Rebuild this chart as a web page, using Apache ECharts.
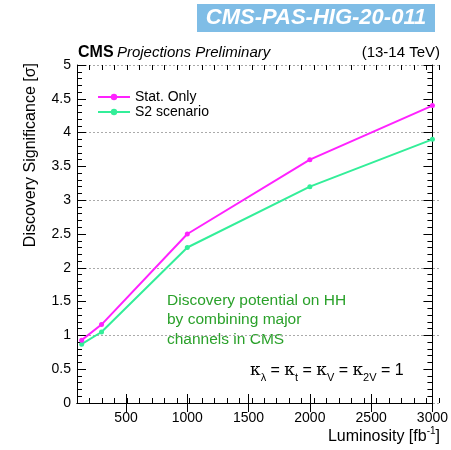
<!DOCTYPE html>
<html><head><meta charset="utf-8">
<script src="https://cdn.jsdelivr.net/npm/echarts@6/dist/echarts.min.js"></script>
<style>html,body{margin:0;padding:0;background:#fff}#c{width:451px;height:450px}</style>
</head><body><div id="c"></div>
<script>
const luminosity = [138, 300, 1000, 2000, 3000];
const statOnly = [0.93, 1.16, 2.5, 3.6, 4.4];
const s2Scenario = [0.87, 1.05, 2.3, 3.2, 3.9];
const xTickLabels = [500, 1000, 1500, 2000, 2500, 3000];
const seriesNames = ['Stat. Only', 'S2 scenario'];

const FONT = 'Liberation Sans, Arial, sans-serif';
const chart = echarts.init(document.getElementById('c'));
const gridRect = {left: 77, right: 12, top: 65, bottom: 47};
const pairs = a => luminosity.map((x, i) => [x, a[i]]);

const xMain = (pos) => ({
  type: 'value', gridIndex: 0, position: pos, min: 100, max: 3000,
  axisLine: {show: true, lineStyle: {color: '#000', width: 1}},
  axisTick: {show: true, inside: true, length: 9, customValues: xTickLabels, lineStyle: {color: '#000'}},
  axisLabel: pos === 'bottom' ? {show: true, customValues: xTickLabels, color: '#000', fontSize: 14, fontFamily: FONT, margin: 8, formatter: v => String(v)} : {show: false},
  splitLine: {show: false}
});
const xMinor = (pos) => ({
  type: 'value', gridIndex: 1, position: pos, min: 100, max: 3000, interval: 100,
  axisLine: {show: false}, axisLabel: {show: false}, splitLine: {show: false},
  axisTick: {show: true, inside: true, length: 5, lineStyle: {color: '#000'}}
});
const yMain = (pos) => ({
  type: 'value', gridIndex: 0, position: pos, min: 0, max: 5, interval: 0.5,
  axisLine: {show: true, lineStyle: {color: '#000', width: 1}},
  axisTick: {show: true, inside: true, length: 9, lineStyle: {color: '#000'}},
  minorTick: {show: true, splitNumber: 5, length: 5, lineStyle: {color: '#000'}},
  axisLabel: pos === 'left' ? {show: true, color: '#000', fontSize: 14, fontFamily: FONT, margin: 6, formatter: v => String(v)} : {show: false},
  splitLine: {show: false}
});

chart.setOption({
  animation: false,
  grid: [Object.assign({}, gridRect), Object.assign({}, gridRect)],
  xAxis: [xMain('bottom'), xMain('top'), xMinor('bottom'), xMinor('top')],
  yAxis: [yMain('left'), yMain('right'),
    {type: 'value', gridIndex: 1, min: 0, max: 5, interval: 1,
     axisLine: {show: false}, axisTick: {show: false}, axisLabel: {show: false},
     splitLine: {show: true, lineStyle: {color: '#aaaaaa', type: [2, 2], width: 1}}}],
  legend: {
    left: 92, top: 85, orient: 'vertical', itemGap: 1, itemWidth: 32, itemHeight: 8,
    textStyle: {fontSize: 14, fontFamily: FONT, color: '#000'},
    data: seriesNames
  },
  series: [
    {type: 'line', xAxisIndex: 2, yAxisIndex: 2, data: [], silent: true},
    {type: 'line', xAxisIndex: 3, yAxisIndex: 2, data: [], silent: true},
    {type: 'line', xAxisIndex: 1, yAxisIndex: 1, data: [], silent: true},
    {name: seriesNames[0], type: 'line', xAxisIndex: 0, yAxisIndex: 0, data: pairs(statOnly),
     symbol: 'circle', symbolSize: 5, color: '#ff22ff', lineStyle: {width: 2, color: '#ff22ff'}, z: 5},
    {name: seriesNames[1], type: 'line', xAxisIndex: 0, yAxisIndex: 0, data: pairs(s2Scenario),
     symbol: 'circle', symbolSize: 5, color: '#33ee99', lineStyle: {width: 2, color: '#33ee99'}, z: 4}
  ],
  graphic: [
    {type: 'rect', shape: {x: 197, y: 4, width: 238, height: 28}, style: {fill: '#7fbde6'}},
    {type: 'text', x: 316, y: 18, style: {text: 'CMS-PAS-HIG-20-011', fill: '#fff', font: 'italic bold 22px ' + FONT, textAlign: 'center', textVerticalAlign: 'middle'}},
    {type: 'text', x: 78, y: 53, style: {rich: {b: {font: 'bold 16px ' + FONT, fill: '#000'}, i: {font: 'italic 15px ' + FONT, fill: '#000'}},
      text: '{b|CMS} {i|Projections Preliminary}', textVerticalAlign: 'middle'}},
    {type: 'text', x: 440, y: 53, style: {text: '(13-14 TeV)', font: '15px ' + FONT, fill: '#000', textAlign: 'right', textVerticalAlign: 'middle'}},
    {type: 'text', x: 31, y: 63, rotation: Math.PI / 2, style: {text: 'Discovery Significance [σ]', font: '16px ' + FONT, fill: '#000', textAlign: 'right', textVerticalAlign: 'middle'}},
    {type: 'text', x: 440, y: 437, style: {rich: {n: {font: '16px ' + FONT, fill: '#000'}, s: {font: '10px ' + FONT, fill: '#000', verticalAlign: 'top', lineHeight: 22}},
      text: '{n|Luminosity [fb}{s|-1}{n|]}', textAlign: 'right', textVerticalAlign: 'middle'}},
    {type: 'text', x: 167, y: 320, style: {text: 'Discovery potential on HH\nby combining major\nchannels in CMS', font: '15.5px ' + FONT, fill: '#2aa12a', lineHeight: 19.5, textVerticalAlign: 'middle'}},
    {type: 'text', x: 250, y: 371, style: {
      rich: {k: {font: '17px DejaVu Serif, serif', fill: '#000', verticalAlign: 'middle', lineHeight: 24},
             s: {font: '11px ' + FONT, fill: '#000', verticalAlign: 'bottom', lineHeight: 24},
             n: {font: '16px ' + FONT, fill: '#000', verticalAlign: 'middle', lineHeight: 24}},
      text: '{k|κ}{s|λ}{n| = }{k|κ}{s|t}{n| = }{k|κ}{s|V}{n| = }{k|κ}{s|2V}{n| = 1}', textVerticalAlign: 'middle'}}
  ]
});
</script></body></html>
